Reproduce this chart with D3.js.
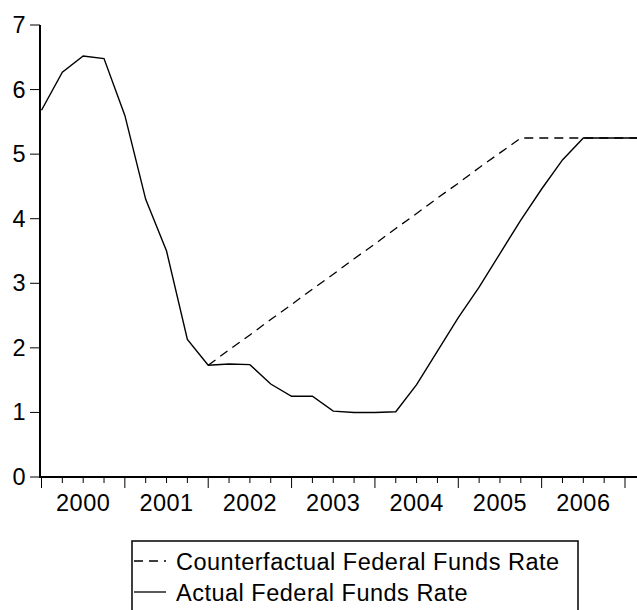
<!DOCTYPE html>
<html><head><meta charset="utf-8">
<script src="https://cdn.jsdelivr.net/npm/d3@7"></script>
<style>body{margin:0;background:#fff}svg{display:block}text{font-family:"Liberation Sans",Arial,sans-serif;font-size:23.5px;letter-spacing:0.5px}</style>
</head><body><div id="chart"></div>
<script>
// quarterly, 2000Q1 .. 2007Q2
var actual = [5.68, 6.27, 6.52, 6.48, 5.6, 4.3, 3.5, 2.13, 1.73, 1.75, 1.74, 1.44, 1.25, 1.25, 1.02, 1.0,
              1.0, 1.01, 1.43, 1.95, 2.47, 2.94, 3.46, 3.98, 4.46, 4.91, 5.25, 5.25, 5.25, 5.25];
// counterfactual starts at 2001Q4
var counterStart = 8;
var counter = [1.73, 1.97, 2.2, 2.44, 2.67, 2.91, 3.14, 3.38, 3.61, 3.85, 4.08, 4.32, 4.55, 4.79, 5.02, 5.25,
               5.25, 5.25, 5.25, 5.25, 5.25, 5.25];
var years = [2000, 2001, 2002, 2003, 2004, 2005, 2006];
var yTicks = [0, 1, 2, 3, 4, 5, 6, 7];
var legendLabels = ["Counterfactual Federal Funds Rate", "Actual Federal Funds Rate"];

var W = 637, H = 610;
var svg = d3.select("#chart").append("svg").attr("width", W).attr("height", H);

var x = d3.scaleLinear().domain([2000, 2007]).range([41.5, 625]);
var y = d3.scaleLinear().domain([0, 7]).range([477, 25]);

svg.append("clipPath").attr("id", "clip").append("rect")
    .attr("x", 40).attr("y", 0).attr("width", W - 40).attr("height", 478);

var line = d3.line().x(function(d) { return x(d.t); }).y(function(d) { return y(d.v); });
var actualData = actual.map(function(v, i) { return {t: 2000 + i / 4, v: v}; });
var counterData = counter.map(function(v, i) { return {t: 2000 + (counterStart + i) / 4, v: v}; });

var g = svg.append("g").attr("clip-path", "url(#clip)");
g.append("path").datum(counterData).attr("d", line)
    .attr("fill", "none").attr("stroke", "#000").attr("stroke-width", 1.3).attr("stroke-dasharray", "9,6");
g.append("path").datum(actualData).attr("d", line)
    .attr("fill", "none").attr("stroke", "#000").attr("stroke-width", 1.4);

// y axis
svg.append("line").attr("x1", 40).attr("x2", 40).attr("y1", 25).attr("y2", 478)
    .attr("stroke", "#000").attr("stroke-width", 2);
yTicks.forEach(function(t) {
  svg.append("line").attr("x1", 30).attr("x2", 40).attr("y1", y(t)).attr("y2", y(t)).attr("stroke", "#000");
  svg.append("text").attr("x", 26).attr("y", y(t) + 8).attr("text-anchor", "end").text(t);
});

// x axis
svg.append("line").attr("x1", 40).attr("x2", W).attr("y1", 477).attr("y2", 477)
    .attr("stroke", "#000").attr("stroke-width", 2);
var q;
for (q = 0; q <= 30; q++) {
  var t = 2000 + q / 4;
  if (x(t) > W) break;
  svg.append("line").attr("x1", x(t)).attr("x2", x(t)).attr("y1", 477)
      .attr("y2", q % 4 === 0 ? 488 : 483).attr("stroke", "#000");
}
years.forEach(function(yr) {
  svg.append("text").attr("x", x(yr + 0.5)).attr("y", 511).attr("text-anchor", "middle").text(yr);
});

// legend
svg.append("rect").attr("x", 132).attr("y", 541).attr("width", 446).attr("height", 80)
    .attr("fill", "none").attr("stroke", "#000").attr("stroke-width", 1.5);
legendLabels.forEach(function(lab, i) {
  var ly = 561 + i * 31;
  svg.append("line").attr("x1", 134).attr("x2", 166).attr("y1", ly).attr("y2", ly)
      .attr("stroke", "#000").attr("stroke-width", 1.3)
      .attr("stroke-dasharray", i === 0 ? "9,6" : null);
  svg.append("text").attr("x", 176).attr("y", ly + 9).text(lab);
});
</script></body></html>
